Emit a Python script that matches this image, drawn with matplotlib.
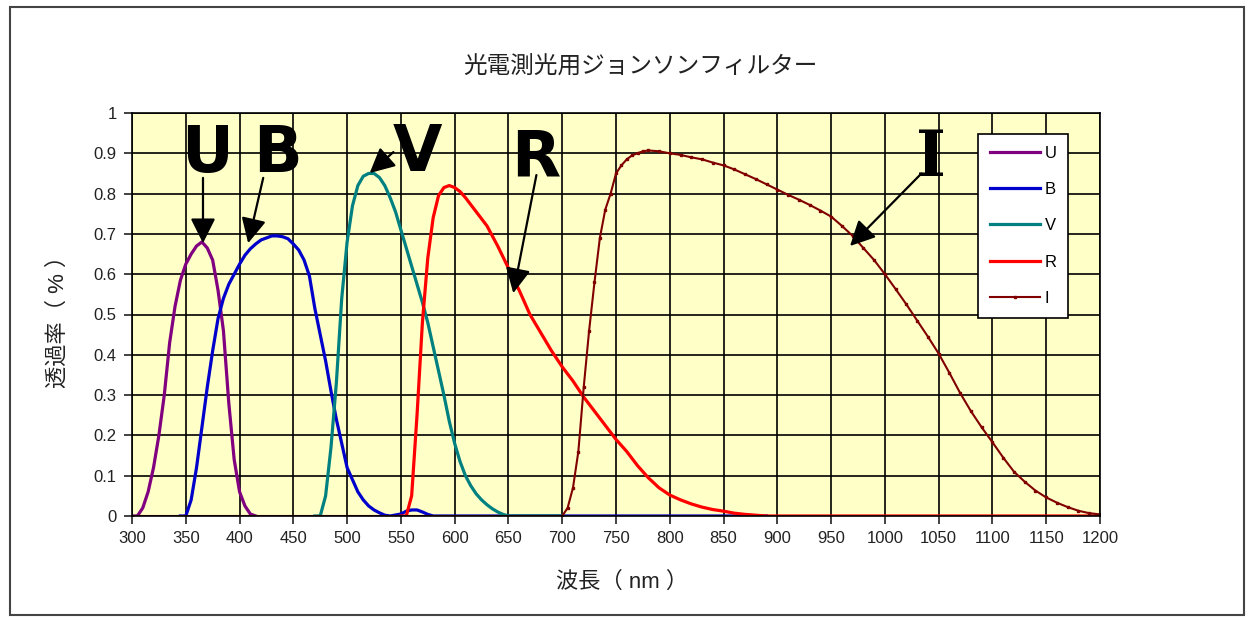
import matplotlib.pyplot as plt
from matplotlib.patches import Rectangle

plt.rcParams['font.family'] = ['Liberation Sans', 'Noto Sans CJK JP', 'DejaVu Sans']

# wavelength (nm) / transmission for each Johnson filter
u_wl = [300, 305, 310, 315, 320, 325, 330, 335, 340, 345, 350, 355, 360, 365, 370,
        375, 380, 385, 390, 395, 400, 405, 410, 415]
u_tr = [0, 0, 0.02, 0.06, 0.12, 0.2, 0.3, 0.43, 0.52, 0.585, 0.625, 0.65, 0.67, 0.68,
        0.665, 0.635, 0.56, 0.46, 0.28, 0.14, 0.06, 0.025, 0.005, 0]

b_wl = [345, 350, 355, 360, 365, 370, 375, 380, 385, 390, 395, 400, 405, 410, 415,
        420, 425, 430, 435, 440, 445, 450, 455, 460, 465, 470, 475, 480, 485, 490,
        495, 500, 505, 510, 515, 520, 525, 530, 535, 540, 550, 555, 560, 565, 570,
        575, 580, 890]
b_tr = [0, 0, 0.04, 0.12, 0.22, 0.32, 0.41, 0.49, 0.54, 0.575, 0.6, 0.625, 0.647,
        0.663, 0.675, 0.685, 0.69, 0.695, 0.695, 0.693, 0.688, 0.675, 0.66, 0.635,
        0.595, 0.515, 0.45, 0.385, 0.31, 0.24, 0.18, 0.12, 0.09, 0.06, 0.04, 0.025,
        0.015, 0.008, 0.002, 0, 0.005, 0.012, 0.015, 0.015, 0.01, 0.004, 0, 0]

v_wl = [470, 475, 480, 485, 490, 495, 500, 505, 510, 515, 520, 525, 530, 535, 540,
        545, 550, 555, 560, 565, 570, 575, 580, 585, 590, 595, 600, 605, 610, 615,
        620, 625, 630, 635, 640, 645, 650, 700]
v_tr = [0, 0, 0.05, 0.17, 0.33, 0.54, 0.68, 0.77, 0.82, 0.843, 0.85, 0.85, 0.84,
        0.82, 0.79, 0.755, 0.71, 0.665, 0.62, 0.575, 0.53, 0.48, 0.42, 0.36, 0.3,
        0.235, 0.18, 0.135, 0.1, 0.075, 0.055, 0.04, 0.028, 0.018, 0.01, 0.004, 0, 0]

r_wl = [550, 555, 560, 565, 570, 575, 580, 585, 590, 595, 600, 605, 610, 620, 630,
        640, 650, 660, 670, 680, 690, 700, 710, 720, 730, 740, 750, 760, 770, 780,
        790, 800, 810, 820, 830, 840, 850, 860, 870, 880, 890, 1200]
r_tr = [0, 0, 0.05, 0.25, 0.48, 0.64, 0.74, 0.795, 0.815, 0.82, 0.815, 0.805, 0.79,
        0.755, 0.72, 0.67, 0.615, 0.56, 0.5, 0.455, 0.41, 0.37, 0.335, 0.295, 0.26,
        0.225, 0.19, 0.16, 0.125, 0.095, 0.07, 0.052, 0.04, 0.03, 0.022, 0.016,
        0.012, 0.007, 0.004, 0.002, 0, 0]

i_wl = [300, 700, 705, 710, 715, 720, 725, 730, 735, 740, 745, 750, 755, 760, 765,
        770, 775, 780, 790, 800, 810, 820, 830, 840, 850, 860, 870, 880, 890, 900,
        910, 920, 930, 940, 950, 960, 970, 980, 990, 1000, 1010, 1020, 1030, 1040,
        1050, 1060, 1070, 1080, 1090, 1100, 1110, 1120, 1130, 1140, 1150, 1160,
        1170, 1180, 1190, 1200]
i_tr = [0, 0, 0.02, 0.07, 0.16, 0.32, 0.46, 0.58, 0.69, 0.76, 0.8, 0.85, 0.87,
        0.885, 0.895, 0.9, 0.905, 0.907, 0.905, 0.9, 0.896, 0.89, 0.885, 0.877, 0.87,
        0.86, 0.848, 0.836, 0.823, 0.81, 0.797, 0.785, 0.772, 0.758, 0.743, 0.72,
        0.695, 0.665, 0.635, 0.6, 0.563, 0.525, 0.485, 0.445, 0.403, 0.355, 0.305,
        0.26, 0.22, 0.183, 0.145, 0.11, 0.085, 0.063, 0.046, 0.033, 0.022, 0.013,
        0.007, 0.004]

x_ticks = list(range(300, 1201, 50))
y_ticks = [0, 0.1, 0.2, 0.3, 0.4, 0.5, 0.6, 0.7, 0.8, 0.9, 1]
y_tick_labels = ['0', '0.1', '0.2', '0.3', '0.4', '0.5', '0.6', '0.7', '0.8', '0.9', '1']

fig = plt.figure(figsize=(12.49, 6.2), dpi=100)
ax = fig.add_axes([132 / 1249, 1 - 516 / 620, 968 / 1249, 403 / 620])
ax.set_facecolor('#FFFFC8')

ax.plot(u_wl, u_tr, color='#800080', lw=2.3, label='U')
ax.plot(b_wl, b_tr, color='#0000CC', lw=2.3, label='B')
ax.plot(v_wl, v_tr, color='#008080', lw=2.3, label='V')
ax.plot(r_wl, r_tr, color='#FF0000', lw=2.3, label='R')
ax.plot(i_wl, i_tr, color='#800000', lw=1.5, marker='s', ms=2, label='I')

ax.set_xlim(300, 1200)
ax.set_ylim(0, 1)
ax.set_xticks(x_ticks)
ax.set_yticks(y_ticks)
ax.set_yticklabels(y_tick_labels)
ax.tick_params(labelsize=12, length=6, width=1.2, pad=5, colors='#222222')
ax.grid(True, color='black', lw=1.2)
ax.set_axisbelow(True)
for s in ax.spines.values():
    s.set_color('black')
    s.set_linewidth(1.2)

# big band letters with arrows
letter = dict(fontsize=46, fontweight='heavy', color='black', ha='center', va='center',
              family='DejaVu Sans')
ax.text(370, 0.898, 'U', **letter)
ax.text(435, 0.898, 'B', **letter)
ax.text(565, 0.9, 'V', **letter)
ax.text(675, 0.888, 'R', **letter)
ax.text(1043, 0.886, 'I', fontsize=46, fontweight='bold', color='black',
        ha='center', va='center', family='DejaVu Serif')

arrow = dict(arrowstyle='-|>', mutation_scale=38, lw=1.6, color='black', shrinkA=0, shrinkB=0)
ax.annotate('', xy=(366, 0.677), xytext=(366, 0.839), arrowprops=arrow)
ax.annotate('', xy=(408, 0.677), xytext=(422, 0.839), arrowprops=arrow)
ax.annotate('', xy=(521, 0.851), xytext=(543, 0.903), arrowprops=arrow)
ax.annotate('', xy=(654.5, 0.553), xytext=(676, 0.846), arrowprops=arrow)
ax.annotate('', xy=(967.6, 0.67), xytext=(1034, 0.85), arrowprops=arrow)

leg = ax.legend(loc='upper left', bbox_to_anchor=(978 / 1249, 1 - 134 / 620),
                bbox_transform=fig.transFigure, borderaxespad=0, fancybox=False,
                edgecolor='black', framealpha=1, fontsize=12, handlelength=3,
                labelspacing=1.28, handletextpad=0.3, borderpad=0.7)
leg.get_frame().set_linewidth(1.2)

fig.text(640 / 1249, 1 - 68 / 620, '光電測光用ジョンソンフィルター', fontsize=17,
         ha='center', va='center', color='#222222')
fig.text(622 / 1249, 1 - 582 / 620, '波長（ nm ）', fontsize=16, ha='center', va='center',
         color='#222222')
fig.text(58 / 1249, 1 - 316 / 620, '透過率（ % ）', fontsize=16, ha='center', va='center',
         rotation=90, color='#222222')

fig.patches.append(Rectangle((10 / 1249, 5 / 620), 1234 / 1249, 608 / 620,
                             transform=fig.transFigure, fill=False, edgecolor='#444444',
                             lw=1.5))

fig.savefig('out.png', dpi=100)
